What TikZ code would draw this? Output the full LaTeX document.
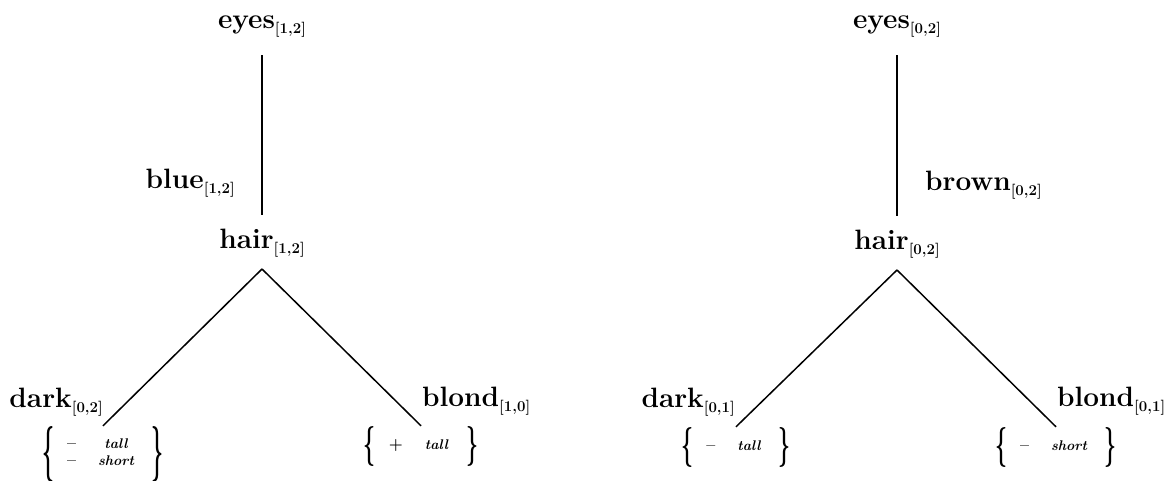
\documentclass[tikz,border=0pt]{standalone}
\usepackage{fix-cm}
\usepackage{fontspec}
\usepackage{graphicx}
\newcommand\lblfont{\fontsize{28}{33}\selectfont\bfseries}
\newcommand\sub[1]{\raisebox{-5pt}{\fontsize{15}{15}\selectfont\bfseries #1}}
\newcommand\attr[1]{{\fontsize{14}{14}\selectfont\bfseries\itshape\addfontfeatures{LetterSpace=20}#1}}
\newcommand\sgn[1]{{\fontsize{16}{16}\selectfont\bfseries #1}}
\newcommand\brc[2]{\vcenter{\hbox{\resizebox{12pt}{#2}{\bfseries #1}}}}
\newcommand\setbody[2]{$\brc{\{}{#2}\hspace{13pt}\vcenter{\hbox{\fontsize{14}{17}\selectfont\begin{tabular}{@{}c@{\hspace{22pt}}c@{}}#1\end{tabular}}}\hspace{18pt}\brc{\}}{#2}$}
\begin{document}
\begin{tikzpicture}[x=1pt,y=-1pt,
  lbl/.style={inner sep=0pt, font=\lblfont},
  setnode/.style={inner sep=0pt},
  edge/.style={line width=1.5pt}]
\useasboundingbox (0,0) rectangle (1167,480);
% left tree
\node[lbl, anchor=base] (eyesL) at (262,28) {eyes\sub{[1,2]}};
\node[lbl, anchor=base] (hairL) at (262,248) {hair\sub{[1,2]}};
\node[lbl, anchor=base east] (blueL) at (235,188) {blue\sub{[1,2]}};
\node[lbl, anchor=base east] (darkL) at (103,407) {dark\sub{[0,2]}};
\node[lbl, anchor=base west] (blondL) at (422,406) {blond\sub{[1,0]}};
\node[setnode] (setLL) at (103,454) {\setbody{\sgn{–} & \attr{tall}\\ \sgn{–} & \attr{short}}{42pt}};
\node[setnode] (setLR) at (421,446) {\setbody{\sgn{+} & \attr{tall}}{30pt}};
% right tree
\node[lbl, anchor=base] (eyesR) at (897,28) {eyes\sub{[0,2]}};
\node[lbl, anchor=base] (hairR) at (897,249) {hair\sub{[0,2]}};
\node[lbl, anchor=base west] (brownR) at (925,190) {brown\sub{[0,2]}};
\node[lbl, anchor=base east] (darkR) at (735,407) {dark\sub{[0,1]}};
\node[lbl, anchor=base west] (blondR) at (1057,406) {blond\sub{[0,1]}};
\node[setnode] (setRL) at (736,447) {\setbody{\sgn{–} & \attr{tall}}{30pt}};
\node[setnode] (setRR) at (1056,447) {\setbody{\sgn{–} & \attr{short}}{30pt}};
% edges
\draw[edge] ([yshift=-27pt]eyesL.base) -- ([yshift=33pt]hairL.base);
\draw[edge] ([yshift=-21pt]hairL.base) -- (setLL.north);
\draw[edge] ([yshift=-21pt]hairL.base) -- (setLR.north);
\draw[edge] ([yshift=-27pt]eyesR.base) -- ([yshift=33pt]hairR.base);
\draw[edge] ([yshift=-21pt]hairR.base) -- (setRL.north);
\draw[edge] ([yshift=-21pt]hairR.base) -- (setRR.north);
\end{tikzpicture}
\end{document}
